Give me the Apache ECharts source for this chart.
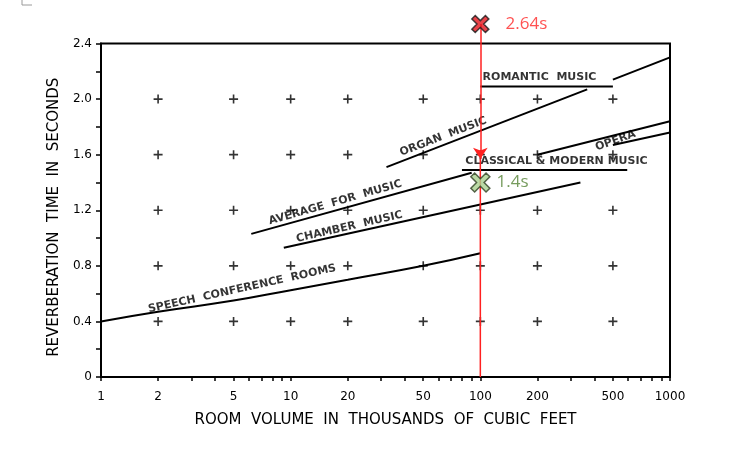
<!DOCTYPE html>
<html>
<head>
<meta charset="utf-8">
<script src="https://cdn.jsdelivr.net/npm/echarts@6/dist/echarts.min.js"></script>
<style>html,body{margin:0;padding:0;background:#fff;}#c{width:740px;height:461px;}</style>
</head>
<body>
<div id="c"></div>
<script>
// ---- data ----
const xLabelValues = [1, 2, 5, 10, 20, 50, 100, 200, 500, 1000];
const xTickValues = [1,2,3,4,5,6,7,8,9,10,20,30,40,50,60,70,80,90,100,200,300,400,500,600,700,800,900,1000];
const yLabelValues = [0, 0.4, 0.8, 1.2, 1.6, 2.0, 2.4];
const gridXValues = [2, 5, 10, 20, 50, 100, 200, 500];
const gridYValues = [0.4, 0.8, 1.2, 1.6, 2.0];

const speechCurve = [[1, 0.40], [2, 0.47], [5, 0.55], [10, 0.625], [20, 0.70], [50, 0.80], [100, 0.89]];
const chamberLine = [[9.2, 0.93], [337, 1.40]];
const averageLine = [[6.2, 1.03], [90, 1.47]];
const organLine = [[32, 1.51], [366, 2.07]];
const romanticUnderline = [[100, 2.09], [500, 2.09]];
const romanticLine = [[500, 2.14], [1000, 2.30]];
const classicalUnderline = [[80, 1.49], [595, 1.49]];
const operaUpper = [[200, 1.60], [1000, 1.84]];
const operaLower = [[500, 1.67], [1000, 1.76]];

const curveLabels = [
  { name: 'SPEECH  CONFERENCE  ROOMS', value: [5.55, 0.635], angle: 12.5 },
  { name: 'CHAMBER  MUSIC', value: [20.4, 1.08], angle: 13 },
  { name: 'AVERAGE  FOR  MUSIC', value: [17.2, 1.255], angle: 16 },
  { name: 'ORGAN  MUSIC', value: [63.8, 1.73], angle: 21 },
  { name: 'ROMANTIC  MUSIC', value: [205, 2.16], angle: 0 },
  { name: 'CLASSICAL & MODERN MUSIC', value: [252, 1.55], angle: 0 },
  { name: 'OPERA', value: [516, 1.70], angle: 20 }
];

const volume = 100;
const measuredTime = 2.64;
const measuredMarkerY = 2.54;
const targetTime = 1.4;
const arrowTipY = 1.57;

// ---- chart ----
const chart = echarts.init(document.getElementById('c'), null, { renderer: 'canvas' });
const plusPath = 'path://M4.1,0H5.9V4.1H10V5.9H5.9V10H4.1V5.9H0V4.1H4.1Z';
const xPath = 'path://M2,0L5,3L8,0L10,2L7,5L10,8L8,10L5,7L2,10L0,8L3,5L0,2Z';

const plusData = [];
gridYValues.forEach(y => gridXValues.forEach(x => plusData.push([x, y])));

function blackLine(data, smooth) {
  return {
    type: 'line', data: data, showSymbol: false, symbol: 'none', smooth: smooth || false,
    lineStyle: { color: '#000', width: 2 }, silent: true, z: 3
  };
}

const labelFont = 'DejaVu Sans';

chart.setOption({
  animation: false,
  backgroundColor: '#fff',
  grid: { left: 101, right: 70, top: 43.5, bottom: 84, show: true, borderColor: '#000', borderWidth: 2, backgroundColor: 'transparent' },
  xAxis: {
    type: 'log', logBase: 10, min: 1, max: 1000,
    name: 'ROOM  VOLUME  IN  THOUSANDS  OF  CUBIC  FEET',
    nameLocation: 'middle', nameGap: 36,
    nameTextStyle: { color: '#000', fontFamily: labelFont, fontSize: 15, fontWeight: 'normal' },
    axisLine: { show: true, lineStyle: { color: '#000', width: 2 } },
    axisTick: { show: true, inside: false, length: 4, customValues: xTickValues, lineStyle: { color: '#000', width: 1.5 } },
    axisLabel: { customValues: xLabelValues, color: '#000', fontFamily: labelFont, fontSize: 12, margin: 14, formatter: v => String(v) },
    minorTick: { show: false },
    splitLine: { show: false }
  },
  yAxis: {
    type: 'value', min: 0, max: 2.4, interval: 0.2,
    name: 'REVERBERATION  TIME  IN  SECONDS',
    nameLocation: 'middle', nameGap: 36,
    nameTextStyle: { color: '#000', fontFamily: labelFont, fontSize: 15, padding: [0, 14, 0, 0] },
    axisLine: { show: true, lineStyle: { color: '#000', width: 2 } },
    axisTick: { show: true, inside: false, length: 5, lineStyle: { color: '#000', width: 1.5 } },
    axisLabel: {
      color: '#000', fontFamily: labelFont, fontSize: 12, margin: 9,
      formatter: v => {
        const hit = yLabelValues.find(t => Math.abs(t - v) < 1e-6);
        if (hit === undefined) return '';
        return hit === 0 ? '0' : hit.toFixed(1);
      }
    },
    splitLine: { show: false }
  },
  graphic: [
    { type: 'polyline', shape: { points: [[22, 0], [22, 5], [32, 5]] }, style: { stroke: '#9a9a9a', lineWidth: 1, fill: null } }
  ],
  series: [
    {
      type: 'scatter', data: plusData, symbol: plusPath, symbolSize: 9,
      itemStyle: { color: '#000' }, silent: true, z: 2
    },
    blackLine(speechCurve, 0.5),
    blackLine(chamberLine),
    blackLine(averageLine),
    blackLine(organLine),
    blackLine(romanticUnderline),
    blackLine(romanticLine),
    blackLine(classicalUnderline),
    blackLine(operaUpper),
    blackLine(operaLower),
    {
      type: 'scatter', data: curveLabels.map(d => ({ name: d.name, value: d.value, label: { rotate: d.angle } })),
      symbolSize: 0, silent: true, z: 4, clip: false,
      label: {
        show: true, position: 'inside', formatter: p => p.name,
        color: '#000', fontFamily: labelFont, fontWeight: 'bold', fontSize: 11
      }
    },
    {
      type: 'lines', coordinateSystem: 'cartesian2d', clip: false, z: 5,
      symbol: ['none', 'arrow'], symbolSize: 11,
      lineStyle: { color: '#ff2020', width: 1.5, opacity: 1 },
      data: [{ coords: [[volume, measuredMarkerY], [volume, arrowTipY]] }]
    },
    {
      type: 'line', data: [[volume, arrowTipY], [volume, 0]], showSymbol: false, symbol: 'none',
      lineStyle: { color: '#ff2020', width: 1.5 }, z: 5, silent: true
    },
    {
      type: 'scatter', clip: false, z: 10, symbol: xPath, symbolSize: 17,
      itemStyle: { color: '#e3141c', borderColor: '#1a1a1a', borderWidth: 1.5 },
      data: [{ value: [volume, measuredMarkerY], label: { formatter: measuredTime.toFixed(2) + 's' } }],
      label: { show: true, position: 'right', distance: 16, color: '#ff2626', fontFamily: 'Open Sans', fontSize: 17 }
    },
    {
      type: 'scatter', clip: false, z: 10, symbol: xPath, symbolSize: 19,
      itemStyle: { color: '#a9d18e', borderColor: '#2f3f22', borderWidth: 1.5 },
      data: [{ value: [volume, targetTime], label: { formatter: targetTime.toFixed(1) + 's' } }],
      label: { show: true, position: 'right', distance: 6, color: '#548235', fontFamily: 'Open Sans', fontSize: 17 }
    }
  ]
});
</script>
</body>
</html>
